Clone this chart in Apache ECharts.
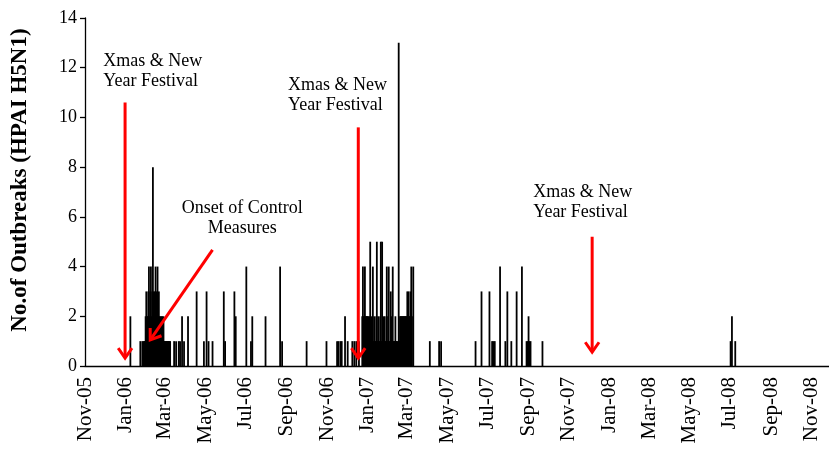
<!DOCTYPE html>
<html>
<head>
<meta charset="utf-8">
<title>HPAI H5N1 outbreaks</title>
<style>
  html, body { margin: 0; padding: 0; background: #fff; }
  #chart { width: 829px; height: 454px; }
</style>
<script src="https://cdn.jsdelivr.net/npm/echarts/dist/echarts.min.js"></script>
</head>
<body>
<div id="chart"></div>
<script>
// Daily time axis
const startDate = '2005-11-01';
const endDate = '2008-11-27';
const monthNames = ['Jan', 'Feb', 'Mar', 'Apr', 'May', 'Jun', 'Jul', 'Aug', 'Sep', 'Oct', 'Nov', 'Dec'];

// Y axis range
const yMin = 0, yMax = 14, yStep = 2;

// Reported outbreaks per day [date, count]
const outbreaks = [
  ['2006-01-08', 2], ['2006-01-23', 1], ['2006-01-26', 1], ['2006-01-28', 1], ['2006-01-29', 1],
  ['2006-01-30', 1], ['2006-01-31', 2], ['2006-02-01', 3], ['2006-02-02', 2], ['2006-02-03', 2],
  ['2006-02-04', 3], ['2006-02-05', 4], ['2006-02-06', 2], ['2006-02-07', 3], ['2006-02-08', 4],
  ['2006-02-09', 2], ['2006-02-10', 3], ['2006-02-11', 8], ['2006-02-12', 3], ['2006-02-13', 2],
  ['2006-02-14', 3], ['2006-02-15', 4], ['2006-02-16', 2], ['2006-02-17', 3], ['2006-02-18', 4],
  ['2006-02-19', 2], ['2006-02-20', 3], ['2006-02-21', 2], ['2006-02-22', 2], ['2006-02-23', 1],
  ['2006-02-24', 2], ['2006-02-25', 2], ['2006-02-26', 1], ['2006-02-27', 2], ['2006-02-28', 1],
  ['2006-03-01', 1], ['2006-03-02', 1], ['2006-03-03', 1], ['2006-03-04', 1], ['2006-03-05', 1],
  ['2006-03-06', 1], ['2006-03-07', 1], ['2006-03-08', 1], ['2006-03-09', 1],
  ['2006-03-15', 1], ['2006-03-18', 1], ['2006-03-22', 1], ['2006-03-24', 1], ['2006-03-27', 2],
  ['2006-03-30', 1], ['2006-04-05', 2], ['2006-04-18', 3], ['2006-04-29', 1], ['2006-05-03', 3],
  ['2006-05-06', 1], ['2006-05-12', 1], ['2006-05-29', 3], ['2006-05-31', 1], ['2006-06-14', 3],
  ['2006-06-16', 2], ['2006-07-02', 4], ['2006-07-09', 1], ['2006-07-11', 2], ['2006-07-31', 2],
  ['2006-08-22', 4], ['2006-08-25', 1], ['2006-10-01', 1], ['2006-10-31', 1],
  ['2006-11-16', 1], ['2006-11-18', 1], ['2006-11-21', 1], ['2006-11-23', 1], ['2006-11-28', 2],
  ['2006-12-02', 1], ['2006-12-09', 1], ['2006-12-12', 1], ['2006-12-15', 1], ['2006-12-19', 1],
  ['2006-12-24', 2], ['2006-12-25', 4], ['2006-12-26', 2], ['2006-12-27', 2], ['2006-12-28', 4],
  ['2006-12-29', 2], ['2006-12-30', 2], ['2006-12-31', 2], ['2007-01-01', 2], ['2007-01-02', 2],
  ['2007-01-03', 1], ['2007-01-04', 2], ['2007-01-05', 5], ['2007-01-06', 1], ['2007-01-07', 2],
  ['2007-01-08', 1], ['2007-01-09', 4], ['2007-01-10', 1], ['2007-01-11', 2], ['2007-01-12', 1],
  ['2007-01-13', 1], ['2007-01-14', 2], ['2007-01-15', 5], ['2007-01-16', 1], ['2007-01-17', 2],
  ['2007-01-18', 1], ['2007-01-19', 1], ['2007-01-20', 2], ['2007-01-21', 5], ['2007-01-22', 1],
  ['2007-01-23', 5], ['2007-01-24', 1], ['2007-01-25', 2], ['2007-01-26', 1], ['2007-01-27', 2],
  ['2007-01-28', 1], ['2007-01-29', 1], ['2007-01-30', 4], ['2007-01-31', 1], ['2007-02-01', 2],
  ['2007-02-02', 4], ['2007-02-03', 1], ['2007-02-04', 1], ['2007-02-05', 3], ['2007-02-06', 2],
  ['2007-02-07', 1], ['2007-02-08', 4], ['2007-02-09', 1], ['2007-02-10', 1], ['2007-02-11', 1],
  ['2007-02-12', 2], ['2007-02-13', 1], ['2007-02-14', 1], ['2007-02-15', 1], ['2007-02-17', 13],
  ['2007-02-18', 1], ['2007-02-19', 2], ['2007-02-20', 2], ['2007-02-21', 2], ['2007-02-22', 2],
  ['2007-02-23', 2], ['2007-02-24', 2], ['2007-02-25', 2], ['2007-02-26', 2], ['2007-02-27', 2],
  ['2007-02-28', 2], ['2007-03-01', 2], ['2007-03-02', 3], ['2007-03-03', 2], ['2007-03-04', 3],
  ['2007-03-05', 2], ['2007-03-06', 2], ['2007-03-07', 3], ['2007-03-08', 4], ['2007-03-09', 2],
  ['2007-03-11', 4],
  ['2007-04-05', 1], ['2007-04-19', 1], ['2007-04-22', 1],
  ['2007-06-13', 1], ['2007-06-22', 3], ['2007-07-04', 3], ['2007-07-08', 1], ['2007-07-10', 1],
  ['2007-07-12', 1], ['2007-07-20', 4], ['2007-07-28', 1], ['2007-07-31', 3], ['2007-08-06', 1],
  ['2007-08-14', 3], ['2007-08-22', 4], ['2007-08-29', 1], ['2007-08-31', 1], ['2007-09-01', 2],
  ['2007-09-02', 1], ['2007-09-04', 1], ['2007-09-22', 1],
  ['2008-07-02', 1], ['2008-07-04', 2], ['2008-07-09', 1]
];

// Red arrows: tail and head in [date, value]
const arrows = [
  { from: ['2005-12-31', 10.6], to: ['2005-12-31', 0.32] },
  { from: ['2006-12-18', 9.6], to: ['2006-12-18', 0.32] },
  { from: ['2007-12-06', 5.2], to: ['2007-12-06', 0.56] },
  { from: ['2006-05-12', 4.67], to: ['2006-02-07', 1.05] }
];

// Text notes anchored at [date, value]
const notes = [
  { at: ['2005-11-28', 11.87], align: 'left', text: 'Xmas & New\nYear Festival' },
  { at: ['2006-09-03', 10.9], align: 'left', text: 'Xmas & New\nYear Festival' },
  { at: ['2007-09-08', 6.6], align: 'left', text: 'Xmas & New\nYear Festival' },
  { at: ['2006-06-26', 5.95], align: 'center', text: 'Onset of Control\nMeasures' }
];

const yTitle = 'No.of Outbreaks (HPAI H5N1)';

function dayList(a, b) {
  const out = [];
  const pa = a.split('-').map(Number), pb = b.split('-').map(Number);
  let t = Date.UTC(pa[0], pa[1] - 1, pa[2]);
  const end = Date.UTC(pb[0], pb[1] - 1, pb[2]);
  while (t <= end) {
    out.push(new Date(t).toISOString().slice(0, 10));
    t += 86400000;
  }
  return out;
}

const days = dayList(startDate, endDate);
const dayIndex = {};
days.forEach((d, i) => { dayIndex[d] = i; });
const counts = days.map(() => null);
outbreaks.forEach(([d, v]) => { counts[dayIndex[d]] = v; });

// ticks and labels on the first day of every other month (Nov, Jan, Mar, ...)
function isTickDay(i, value) {
  const v = value || days[i];
  return v.slice(8) === '01' && Number(v.slice(5, 7)) % 2 === 1;
}
function monthLabel(v) {
  return monthNames[Number(v.slice(5, 7)) - 1] + '-' + v.slice(2, 4);
}

const serif = '"Liberation Serif", "Times New Roman", serif';
const chart = echarts.init(document.getElementById('chart'), null, { renderer: 'canvas' });

chart.setOption({
  animation: false,
  backgroundColor: '#fff',
  grid: { left: 85, right: 0, top: 18, bottom: 88 },
  xAxis: {
    type: 'category',
    data: days,
    boundaryGap: true,
    axisLine: { lineStyle: { color: '#000', width: 1.3 } },
    axisTick: { interval: isTickDay, alignWithLabel: true, length: 6, lineStyle: { color: '#000', width: 1.3 } },
    axisLabel: {
      interval: isTickDay, rotate: 90, formatter: monthLabel,
      fontFamily: serif, fontSize: 21, color: '#000', margin: 11
    },
    splitLine: { show: false }
  },
  yAxis: {
    type: 'value', min: yMin, max: yMax, interval: yStep,
    axisLine: { show: true, lineStyle: { color: '#000', width: 1.3 } },
    axisTick: { show: true, length: 5, lineStyle: { color: '#000', width: 1.3 } },
    axisLabel: { fontFamily: serif, fontSize: 18, color: '#000', margin: 8 },
    splitLine: { show: false }
  },
  series: [{
    type: 'bar',
    data: counts,
    barWidth: 1.8,
    itemStyle: { color: '#000' }
  }]
});

function toPx(p) {
  return chart.convertToPixel({ xAxisIndex: 0, yAxisIndex: 0 }, [p[0], p[1]]);
}

const graphics = [];
graphics.push({
  type: 'text', x: 20, y: 180, rotation: Math.PI / 2, z: 100,
  style: {
    text: yTitle, fill: '#000', font: 'bold 23px ' + serif,
    align: 'center', verticalAlign: 'middle', textAlign: 'center', textVerticalAlign: 'middle'
  }
});

notes.forEach(n => {
  const p = toPx(n.at);
  graphics.push({
    type: 'text', x: p[0], y: p[1], z: 100,
    style: {
      text: n.text, fill: '#000', font: '18px ' + serif, lineHeight: 20,
      align: n.align, verticalAlign: 'middle', textAlign: n.align, textVerticalAlign: 'middle'
    }
  });
});

const headLen = 12, headAngle = 35 * Math.PI / 180;
arrows.forEach(a => {
  const t = toPx(a.from), h = toPx(a.to);
  const dx = h[0] - t[0], dy = h[1] - t[1];
  const len = Math.hypot(dx, dy);
  const ux = dx / len, uy = dy / len;
  const arm = s => {
    const c = Math.cos(s * headAngle), sn = Math.sin(s * headAngle);
    const rx = ux * c - uy * sn, ry = ux * sn + uy * c;
    return [h[0] - rx * headLen, h[1] - ry * headLen];
  };
  graphics.push({
    type: 'polyline', z: 110,
    shape: { points: [t, h] },
    style: { stroke: '#ff0000', lineWidth: 3, fill: null }
  });
  graphics.push({
    type: 'polyline', z: 110,
    shape: { points: [arm(1), h, arm(-1)] },
    style: { stroke: '#ff0000', lineWidth: 3, fill: null, lineJoin: 'miter' }
  });
});

chart.setOption({ graphic: graphics });
</script>
</body>
</html>
